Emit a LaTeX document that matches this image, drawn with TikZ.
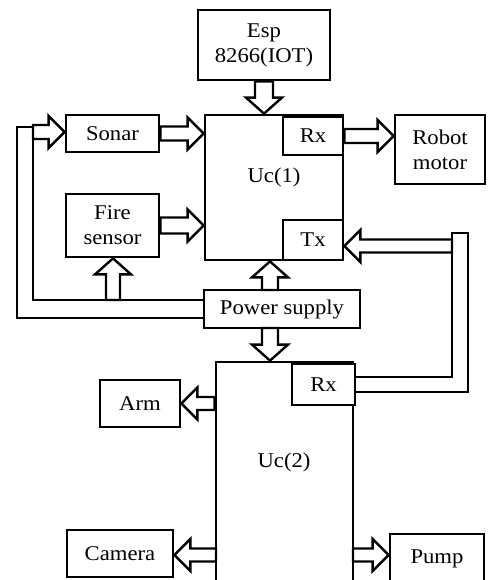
\documentclass[tikz,border=0pt]{standalone}
\usepackage{fontspec}
\setmainfont{Liberation Serif}[FakeStretch=1.08]
\usetikzlibrary{calc}
\tikzset{
  box/.style={draw, line width=2.8pt, fill=white, inner sep=0pt, align=center,
    font=\fontsize{21}{25}\selectfont},
  lbl/.style={inner sep=0pt, font=\fontsize{21}{25}\selectfont},
  barrow/.style={draw, line width=2.4pt, fill=white, line join=miter},
  bar/.style={draw, line width=2.6pt, fill=white, line join=miter},
}
% horizontal block arrow: [shaft half-width] from #2 to #3
\newcommand\harrow[3][7]{%
  \draw[barrow] let \p1=(#2), \p2=(#3), \n1={ifthenelse(\x2>\x1,1,-1)} in
    (\x1,{\y1-#1pt}) -- ({\x2-\n1*16pt},{\y1-#1pt}) -- ({\x2-\n1*16pt},{\y1-16pt})
    -- (\x2,\y1) -- ({\x2-\n1*16pt},{\y1+16pt}) -- ({\x2-\n1*16pt},{\y1+#1pt})
    -- (\x1,{\y1+#1pt}) -- cycle;}
% vertical block arrow
\newcommand\varrow[3][8]{%
  \draw[barrow] let \p1=(#2), \p2=(#3), \n1={ifthenelse(\y2>\y1,1,-1)} in
    ({\x1-#1pt},\y1) -- ({\x1-#1pt},{\y2-\n1*16pt}) -- ({\x1-18pt},{\y2-\n1*16pt})
    -- (\x1,\y2) -- ({\x1+18pt},{\y2-\n1*16pt}) -- ({\x1+#1pt},{\y2-\n1*16pt})
    -- ({\x1+#1pt},\y1) -- cycle;}
\begin{document}
\begin{tikzpicture}[x=1pt,y=-1pt]
\useasboundingbox (0,0) rectangle (487,580);
\clip (0,0) rectangle (487,580);

% connector bars
\draw[bar] (17,127) -- (33,127) -- (33,300) -- (204,300) -- (204,318) -- (17,318) -- cycle;
\draw[bar] (452,233) -- (468,233) -- (468,392) -- (355,392) -- (355,377) -- (452,377) -- cycle;

% boxes
\node[box, minimum width=132pt, minimum height=70pt] (esp) at (264,45) {Esp\\8266(IOT)};
\node[box, minimum width=138pt, minimum height=145pt] (uc1) at (274,187.5) {};
\node[lbl] (uc1t) at (274,177) {Uc(1)};
\node[box, minimum width=60pt, minimum height=38pt] (rx1) at (313,136) {Rx};
\node[box, minimum width=60pt, minimum height=40pt] (tx) at (313,240) {Tx};
\node[box, minimum width=93pt, minimum height=37pt] (sonar) at (112.5,133.5) {Sonar};
\node[box, minimum width=93pt, minimum height=63pt] (fire) at (112.5,225.5) {Fire\\sensor};
\node[box, minimum width=90pt, minimum height=69pt] (robot) at (440,149.5) {Robot\\motor};
\node[box, minimum width=156pt, minimum height=38pt] (power) at (282,309) {Power supply};
\node[box, minimum width=137pt, minimum height=226pt] (uc2) at (284.5,475) {};
\node[lbl] (uc2t) at (284,462) {Uc(2)};
\node[box, minimum width=63pt, minimum height=41pt] (rx2) at (323.5,384.5) {Rx};
\node[box, minimum width=80pt, minimum height=47pt] (arm) at (140,403.5) {Arm};
\node[box, minimum width=106pt, minimum height=47pt] (camera) at (120,553.5) {Camera};
\node[box, minimum width=94pt, minimum height=50pt] (pump) at (437,559) {Pump};

% coordinates for connector ends
\coordinate (sonarin) at (33,132);
\coordinate (firein) at (113,300);
\coordinate (txin) at (452,246);
\coordinate (pup) at (270,290);
\coordinate (pdn) at (270,328);
\coordinate (outc) at (216,555);
\coordinate (outp) at (353,555);

% block arrows
\varrow[9]{esp.south}{esp.south |- uc1.north}
\harrow{sonarin}{sonar.west |- sonarin}
\harrow{sonar.east}{sonar.east -| uc1.west}
\harrow[8]{fire.east}{fire.east -| uc1.west}
\harrow{rx1.east}{rx1.east -| robot.west}
\harrow[6.5]{txin}{txin -| tx.east}
\varrow[7]{firein}{firein |- fire.south}
\varrow{pup}{pup |- uc1.south}
\varrow{pdn}{pdn |- uc2.north}
\harrow[6.5]{uc2.west |- arm.east}{arm.east}
\harrow[6.5]{outc}{outc -| camera.east}
\harrow[6.5]{outp}{outp -| pump.west}
\end{tikzpicture}
\end{document}
